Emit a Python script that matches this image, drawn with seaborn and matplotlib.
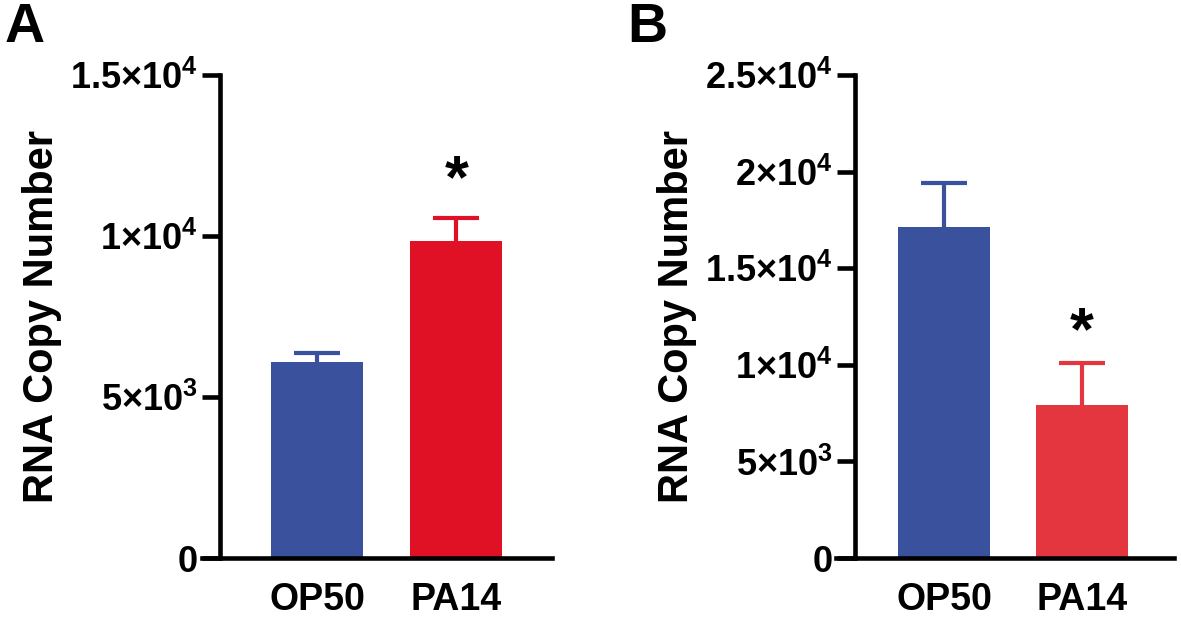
import matplotlib
matplotlib.use("Agg")
import matplotlib.pyplot as plt
import seaborn as sns
import pandas as pd

# data
groups = ["OP50", "PA14"]
mean_a = [6090, 9850]
sem_a = [270, 710]
mean_b = [17110, 7910]
sem_b = [2320, 2190]
ticks_a = [0, 5000, 10000, 15000]
ticklabels_a = ["0", "5×10$^{3}$", "1×10$^{4}$", "1.5×10$^{4}$"]
ticks_b = [0, 5000, 10000, 15000, 20000, 25000]
ticklabels_b = ["0", "5×10$^{3}$", "1×10$^{4}$", "1.5×10$^{4}$", "2×10$^{4}$", "2.5×10$^{4}$"]
blue = "#3A529E"
red_a = "#E01025"
red_b = "#E3363F"

sns.set_theme(style="white")
plt.rcParams['font.family'] = ['Liberation Sans', 'DejaVu Sans']
plt.rcParams['font.weight'] = 'bold'
plt.rcParams['text.color'] = 'black'
plt.rcParams['axes.labelcolor'] = 'black'
plt.rcParams['xtick.color'] = 'black'
plt.rcParams['ytick.color'] = 'black'
plt.rcParams['mathtext.fontset'] = 'custom'
plt.rcParams['mathtext.rm'] = 'Liberation Sans:bold'
plt.rcParams['mathtext.it'] = 'Liberation Sans:bold'
plt.rcParams['mathtext.bf'] = 'Liberation Sans:bold'

fig = plt.figure(figsize=(11.81, 6.21), dpi=100)

LW = 3.3


def panel(rect, means, sems, colors, ticks, labels, xl, spine_x, star_y):
    ax = fig.add_axes(rect)
    df = pd.DataFrame({"group": groups, "value": means})
    sns.barplot(data=df, x="group", y="value", hue="group", palette=colors,
                legend=False, width=0.66, ax=ax, saturation=1,
                edgecolor=None, linewidth=0, zorder=2)
    for i in range(len(means)):
        eb = ax.errorbar(i, means[i], yerr=[[0], [sems[i]]], fmt='none',
                         ecolor=colors[i], elinewidth=3.0, capsize=16.5,
                         capthick=3.0, zorder=1)
        # only the upper cap is visible in the original
        eb[1][0].remove()
    ax.set_xlim(xl)
    ax.set_ylim(0, ticks[-1])
    ax.set_yticks(ticks)
    ax.set_yticklabels(labels)
    for s in ["top", "right"]:
        ax.spines[s].set_visible(False)
    ax.spines["left"].set_position(("data", spine_x))
    ax.spines["left"].set_linewidth(LW)
    ax.spines["bottom"].set_linewidth(LW)
    ax.spines["left"].set_color("black")
    ax.spines["bottom"].set_color("black")
    ax.tick_params(axis="y", length=13, width=LW, color="black", pad=3,
                   labelsize=26, left=True, labelcolor="black")
    ax.tick_params(axis="x", length=0, pad=17, labelsize=27, labelcolor="black")
    ax.set_xlabel("")
    ax.set_ylabel("RNA Copy Number", fontsize=30, fontweight="bold", labelpad=6)
    ax.patch.set_alpha(0)
    ax.text(1, star_y, "*", ha="center", va="center", fontsize=44, fontweight="bold")
    return ax


axA = panel([202 / 1181, 1 - 558 / 621, 350 / 1181, 483 / 621], mean_a, sem_a,
            [blue, red_a], ticks_a, ticklabels_a, (-0.824, 1.685), -0.695, 11700)
axB = panel([836 / 1181, 1 - 558 / 621, 338 / 1181, 483 / 621], mean_b, sem_b,
            [blue, red_b], ticks_b, ticklabels_b, (-0.783, 1.667), -0.645, 11600)

fig.text(5 / 1181, 1 - 28 / 621, "A", fontsize=40, fontweight="bold", va="center", ha="left")
fig.text(627 / 1181, 1 - 28 / 621, "B", fontsize=40, fontweight="bold", va="center", ha="left")

fig.savefig("out.png", dpi=100)
